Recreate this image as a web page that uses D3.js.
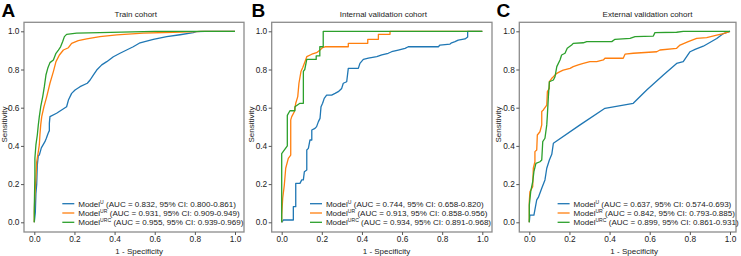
<!DOCTYPE html>
<html><head><meta charset="utf-8">
<script src="https://cdn.jsdelivr.net/npm/d3@7"></script>
<style>body{margin:0;background:#fff}svg{display:block}text{font-family:"Liberation Sans",Arial,sans-serif}</style>
</head><body><svg id="c" width="741" height="256"></svg>
<script>
const panelLetters = ["A","B","C"];
const panelTitles = ["Train cohort","Internal validation cohort","External validation cohort"];
const modelNames = ["U","UR","URC"];
const seriesColors = ["#1f77b4","#ff7f0e","#2ca02c"];
const tickValues = [0,0.2,0.4,0.6,0.8,1.0];
const legendLabels = [
  [" (AUC = 0.832, 95% CI: 0.800-0.861)"," (AUC = 0.931, 95% CI: 0.909-0.949)"," (AUC = 0.955, 95% CI: 0.939-0.969)"],
  [" (AUC = 0.744, 95% CI: 0.658-0.820)"," (AUC = 0.913, 95% CI: 0.858-0.956)"," (AUC = 0.934, 95% CI: 0.891-0.968)"],
  [" (AUC = 0.637, 95% CI: 0.574-0.693)"," (AUC = 0.842, 95% CI: 0.793-0.885)"," (AUC = 0.899, 95% CI: 0.861-0.931)"]
];
// ROC points [1-specificity, sensitivity]
const trainU = [[0,0],[0.005,0.05],[0.008,0.15],[0.012,0.2],[0.015,0.3],[0.02,0.35],[0.025,0.352],[0.035,0.39],[0.053,0.422],[0.06,0.44],[0.069,0.466],[0.075,0.48],[0.075,0.518],[0.078,0.553],[0.111,0.571],[0.136,0.588],[0.161,0.605],[0.17,0.64],[0.186,0.675],[0.203,0.693],[0.228,0.71],[0.264,0.728],[0.278,0.745],[0.294,0.771],[0.311,0.797],[0.336,0.824],[0.361,0.841],[0.394,0.867],[0.427,0.885],[0.46,0.902],[0.493,0.919],[0.527,0.94],[0.593,0.958],[0.66,0.972],[0.726,0.982],[0.792,0.993],[0.809,0.998],[0.85,1],[1,1]];
const trainUR = [[0,0],[0,0.055],[0.003,0.143],[0.008,0.23],[0.012,0.317],[0.02,0.37],[0.025,0.405],[0.028,0.457],[0.032,0.51],[0.037,0.553],[0.048,0.605],[0.062,0.658],[0.078,0.728],[0.095,0.789],[0.108,0.841],[0.125,0.876],[0.145,0.902],[0.17,0.914],[0.186,0.937],[0.219,0.951],[0.261,0.96],[0.327,0.972],[0.411,0.981],[0.543,0.99],[0.693,0.995],[0.809,0.998],[0.83,1],[1,1]];
const trainURC = [[0,0],[0,0.073],[0.003,0.248],[0.003,0.335],[0.008,0.405],[0.015,0.457],[0.02,0.51],[0.025,0.553],[0.032,0.605],[0.042,0.658],[0.05,0.71],[0.058,0.771],[0.067,0.806],[0.078,0.836],[0.095,0.85],[0.108,0.885],[0.12,0.902],[0.131,0.919],[0.141,0.945],[0.15,0.972],[0.161,0.984],[0.211,0.99],[0.327,0.993],[0.543,0.998],[0.6,1],[1,1]];
const internU = [[0,0],[0.008,0.012],[0.058,0.012],[0.058,0.082],[0.07,0.082],[0.07,0.204],[0.091,0.204],[0.1,0.222],[0.108,0.222],[0.113,0.265],[0.125,0.274],[0.125,0.379],[0.133,0.387],[0.141,0.431],[0.15,0.431],[0.15,0.483],[0.166,0.492],[0.174,0.501],[0.183,0.527],[0.191,0.544],[0.196,0.605],[0.204,0.623],[0.212,0.649],[0.224,0.666],[0.249,0.666],[0.266,0.675],[0.282,0.684],[0.299,0.701],[0.307,0.728],[0.324,0.736],[0.332,0.806],[0.382,0.806],[0.39,0.832],[0.407,0.853],[0.432,0.859],[0.474,0.867],[0.499,0.876],[0.531,0.885],[0.548,0.893],[0.581,0.902],[0.615,0.911],[0.631,0.919],[0.781,0.919],[0.789,0.928],[0.839,0.933],[0.847,0.94],[0.864,0.946],[0.88,0.954],[0.914,0.96],[0.927,0.97],[0.927,1],[1,1]];
const internUR = [[0,0],[0,0.038],[0.005,0.126],[0.013,0.195],[0.02,0.283],[0.033,0.335],[0.045,0.352],[0.045,0.51],[0.045,0.536],[0.05,0.553],[0.063,0.579],[0.07,0.623],[0.08,0.658],[0.086,0.728],[0.096,0.789],[0.105,0.81],[0.116,0.841],[0.125,0.867],[0.15,0.88],[0.174,0.888],[0.191,0.902],[0.203,0.914],[0.216,0.919],[0.332,0.919],[0.332,0.937],[0.429,0.937],[0.429,0.958],[0.482,0.958],[0.482,0.984],[0.54,0.984],[0.54,1],[1,1]];
const internURC = [[0,0],[0,0.36],[0.028,0.4],[0.028,0.56],[0.041,0.584],[0.066,0.584],[0.066,0.605],[0.091,0.623],[0.108,0.623],[0.108,0.79],[0.115,0.8],[0.125,0.853],[0.172,0.853],[0.172,0.871],[0.19,0.871],[0.19,0.919],[0.207,0.919],[0.207,1],[1,1]];
const externU = [[0,0],[0.003,0.038],[0.023,0.038],[0.037,0.117],[0.045,0.13],[0.062,0.178],[0.078,0.222],[0.087,0.283],[0.1,0.326],[0.112,0.356],[0.12,0.414],[0.253,0.51],[0.377,0.597],[0.518,0.623],[0.585,0.693],[0.668,0.771],[0.734,0.832],[0.767,0.841],[0.801,0.893],[0.826,0.905],[0.867,0.922],[0.934,0.962],[0.967,0.988],[1,1]];
const externUR = [[0,0],[0,0.108],[0.003,0.16],[0.017,0.187],[0.02,0.283],[0.028,0.317],[0.028,0.37],[0.037,0.379],[0.04,0.457],[0.053,0.474],[0.062,0.51],[0.062,0.58],[0.07,0.588],[0.087,0.614],[0.09,0.684],[0.1,0.701],[0.1,0.736],[0.112,0.754],[0.12,0.762],[0.137,0.78],[0.153,0.789],[0.169,0.797],[0.203,0.806],[0.219,0.815],[0.244,0.824],[0.269,0.832],[0.302,0.841],[0.336,0.841],[0.369,0.85],[0.377,0.859],[0.468,0.859],[0.477,0.88],[0.518,0.885],[0.635,0.893],[0.651,0.902],[0.734,0.911],[0.751,0.928],[0.792,0.946],[0.834,0.963],[0.884,0.967],[0.934,0.98],[0.967,0.988],[1,1]];
const externURC = [[0,0],[0,0.09],[0.007,0.16],[0.017,0.213],[0.023,0.265],[0.033,0.309],[0.053,0.317],[0.062,0.326],[0.067,0.422],[0.078,0.44],[0.087,0.51],[0.09,0.56],[0.095,0.658],[0.1,0.736],[0.12,0.745],[0.128,0.762],[0.137,0.815],[0.153,0.85],[0.161,0.876],[0.178,0.885],[0.189,0.911],[0.211,0.928],[0.219,0.937],[0.269,0.94],[0.286,0.946],[0.411,0.946],[0.427,0.958],[0.502,0.963],[0.527,0.972],[0.618,0.975],[0.626,0.993],[0.734,0.995],[0.767,1],[1,1]];
const panelSeries = [[trainU,trainUR,trainURC],[internU,internUR,internURC],[externU,externUR,externURC]];

// layout
const boxes = [
  {l:24,r:244,x0:34.3,x1:235,titleX:135.8,letterX:1.5,ylabX:7.3},
  {l:271.7,r:492,x0:281.7,x1:482.3,titleX:383.3,letterX:251.5,ylabX:253.5},
  {l:519.3,r:736,x0:529.3,x1:730,titleX:647.5,letterX:496.5,ylabX:501}
];
const boxTop = 22.3, boxBot = 232, yTop = 31.3, yBot = 222.3;

const svg = d3.select("#c");
boxes.forEach((b,i)=>{
  const g = svg.append("g");
  const x = d3.scaleLinear().domain([0,1]).range([b.x0,b.x1]);
  const y = d3.scaleLinear().domain([0,1]).range([yBot,yTop]);
  const line = d3.line().x(d=>x(d[0])).y(d=>y(d[1]));
  panelSeries[i].forEach((s,k)=>{
    g.append("path").attr("d",line(s)).attr("fill","none").attr("stroke",seriesColors[k]).attr("stroke-width",1.3).attr("stroke-linejoin","round");
  });
  g.append("rect").attr("x",b.l).attr("y",boxTop).attr("width",b.r-b.l).attr("height",boxBot-boxTop)
    .attr("fill","none").attr("stroke","#8c8c8c").attr("stroke-width",1.3);
  const ax = g.append("g").attr("transform",`translate(${b.l},0)`)
    .call(d3.axisLeft(y).tickValues(tickValues).tickFormat(d3.format(".1f")).tickSize(3).tickPadding(1.5));
  const bx = g.append("g").attr("transform",`translate(0,${boxBot})`)
    .call(d3.axisBottom(x).tickValues(tickValues).tickFormat(d3.format(".1f")).tickSize(3).tickPadding(1.2));
  [ax,bx].forEach(a=>{
    a.select(".domain").remove();
    a.selectAll(".tick line").attr("stroke","#555");
    a.selectAll(".tick text").attr("fill","#222").style("font-size","8.3px").style("font-family","Liberation Sans, Arial, sans-serif");
  });
  g.append("text").attr("x",b.titleX).attr("y",16.5).attr("text-anchor","middle").attr("fill","#222").style("font-size","8px").text(panelTitles[i]);
  g.append("text").attr("x",b.letterX).attr("y",17).attr("fill","#000").style("font-size","19px").style("font-weight","bold").text(panelLetters[i]);
  g.append("text").attr("transform",`translate(${b.ylabX},124.5) rotate(-90)`).attr("text-anchor","middle").attr("fill","#222").style("font-size","8px").text("Sensitivity");
  g.append("text").attr("x",(b.x0+b.x1)/2+4.5).attr("y",253.5).attr("text-anchor","middle").attr("fill","#222").style("font-size","8px").text("1 - Specificity");
  const lg = g.append("g");
  const rows = [203.7,213,222.3];
  modelNames.forEach((m,k)=>{
    lg.append("line").attr("x1",b.l+38.3).attr("x2",b.l+50.3).attr("y1",rows[k]).attr("y2",rows[k]).attr("stroke",seriesColors[k]).attr("stroke-width",1.3);
    const t = lg.append("text").attr("x",b.l+54.2).attr("y",rows[k]+2.9).attr("fill","#222").style("font-size","8.05px");
    t.append("tspan").text("Model");
    t.append("tspan").attr("dy",-2.9).style("font-size","5.1px").text(m);
    t.append("tspan").attr("dy",2.9).text(legendLabels[i][k]);
  });
});
</script></body></html>
